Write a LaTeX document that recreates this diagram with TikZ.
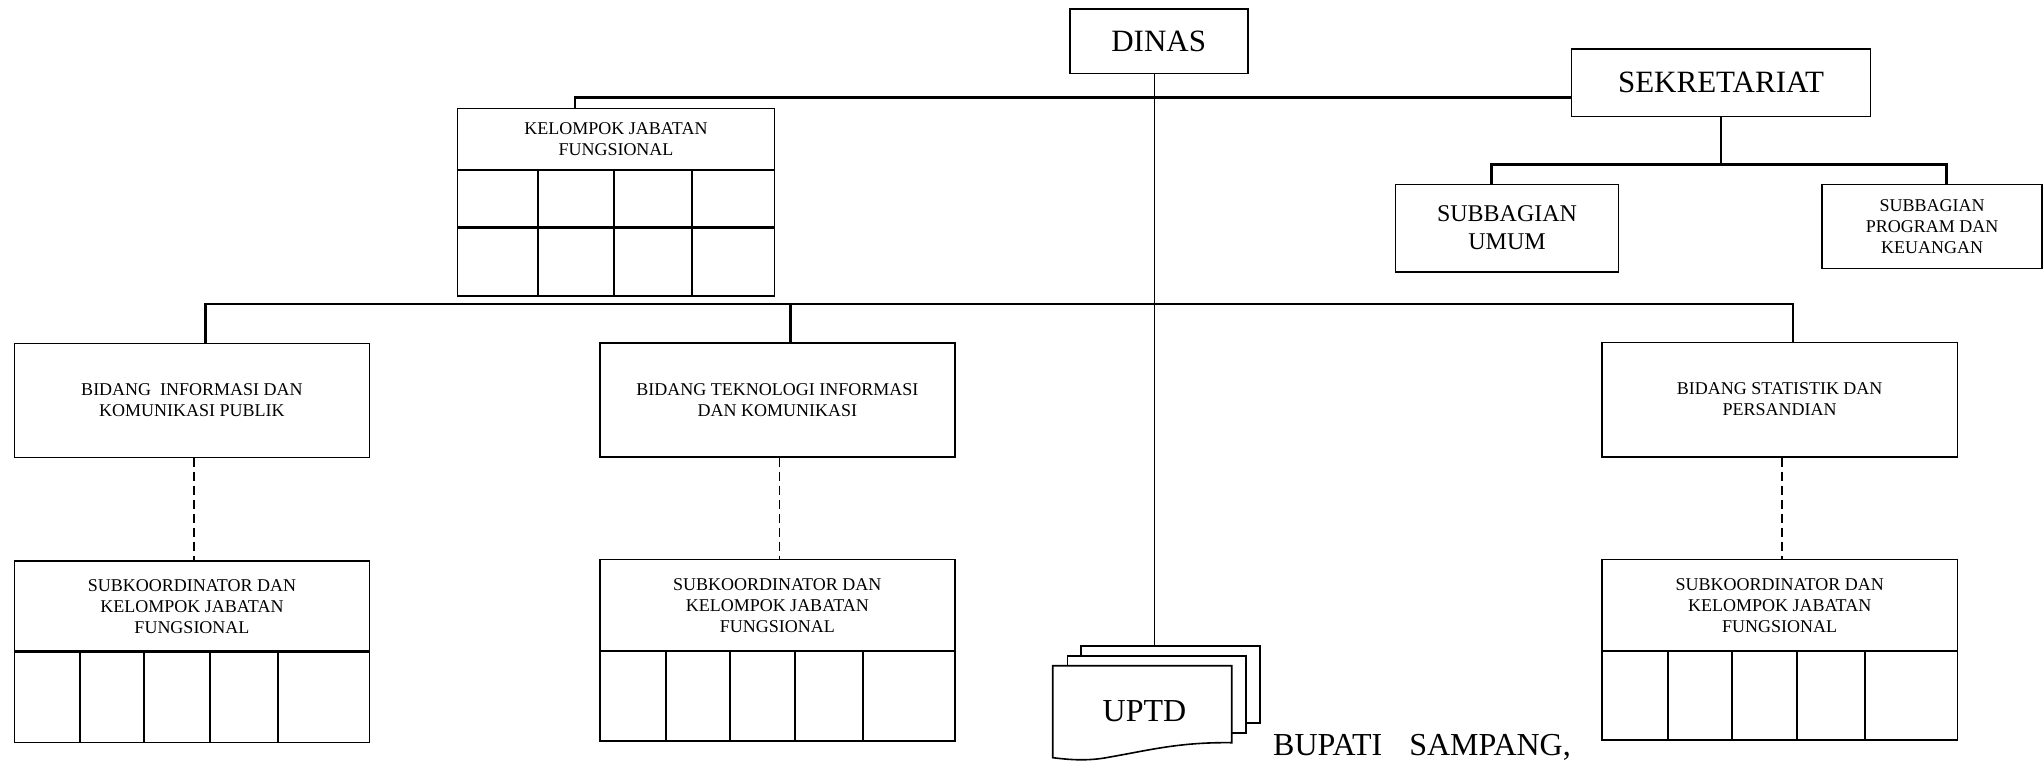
\documentclass[tikz,border=0pt]{standalone}
\usepackage{fontspec}
\setmainfont{Liberation Serif}
\begin{document}
\begin{tikzpicture}[x=1pt,y=-1pt,
  box/.style={draw, line width=1.6pt, inner sep=2pt, align=center, fill=white},
  big/.style={font=\fontsize{31}{36}\selectfont},
  mid/.style={font=\fontsize{24}{28.3}\selectfont},
  small/.style={font=\fontsize{18}{21}\selectfont},
  conn/.style={line width=2.4pt},
  thinconn/.style={line width=1.3pt},
  dashconn/.style={line width=1.6pt, dash pattern=on 9pt off 5pt},
  sep/.style={line width=2.8pt},
  col/.style={line width=2pt},
  sheet/.style={draw, line width=1.6pt, fill=white, inner sep=0pt}]
\useasboundingbox (0,0) rectangle (2044,761);

% top level
\node[box,big,minimum width=178pt,minimum height=64.5pt] (dinas) at (1158.7,41.2) {DINAS};
\node[box,big,minimum width=299pt,minimum height=67.7pt] (sek) at (1721,82.8) {SEKRETARIAT};

% kelompok jabatan fungsional (top)
\node[box,small,minimum width=316.7pt,minimum height=61.7pt] (kjf) at (616,139.2) {KELOMPOK JABATAN\\FUNGSIONAL};
\draw[line width=1.6pt] (457.6,170) rectangle (774.3,295.7);
\draw[sep] (457.6,170) -- (774.3,170);
\draw[sep] (457.6,227.7) -- (774.3,227.7);
\foreach \x in {538.4,614,691.6} \draw[col] (\x,170) -- (\x,295.7);

% subbagian
\node[box,mid,minimum width=223pt,minimum height=87.4pt] (su) at (1507,228) {SUBBAGIAN\\UMUM};
\node[box,small,minimum width=220pt,minimum height=84pt] (sp) at (1932,226.3) {SUBBAGIAN\\PROGRAM DAN\\KEUANGAN};

% bidang
\node[box,small,minimum width=355.3pt,minimum height=114pt] (b1) at (192,400.3) {BIDANG~~INFORMASI DAN\\KOMUNIKASI PUBLIK};
\node[box,small,minimum width=355.2pt,minimum height=114pt] (b2) at (777.3,399.7) {BIDANG TEKNOLOGI INFORMASI\\DAN KOMUNIKASI};
\node[box,small,minimum width=355.2pt,minimum height=114.4pt] (b3) at (1779.7,399.5) {BIDANG STATISTIK DAN\\PERSANDIAN};

% subkoordinator
\node[box,small,minimum width=355.3pt,minimum height=90.7pt] (s1) at (192,606.3) {SUBKOORDINATOR DAN\\KELOMPOK JABATAN\\FUNGSIONAL};
\node[box,small,minimum width=355.2pt,minimum height=91.7pt] (s2) at (777.3,605.2) {SUBKOORDINATOR DAN\\KELOMPOK JABATAN\\FUNGSIONAL};
\node[box,small,minimum width=355.2pt,minimum height=91.7pt] (s3) at (1779.7,605.2) {SUBKOORDINATOR DAN\\KELOMPOK JABATAN\\FUNGSIONAL};
\foreach \l/\t/\b in {14.3/651.7/742.3, 599.7/651/741, 1602.1/651/740} {
  \draw[line width=1.6pt] (\l,\t) rectangle ({\l+355.2},\b);
  \draw[sep] (\l,\t) -- ({\l+355.2},\t);
  \foreach \d in {66,130,195.3,263.3} \draw[col] ({\l+\d},\t) -- ({\l+\d},\b);
}

% UPTD stacked documents
\node[sheet,minimum width=179.3pt,minimum height=77pt] (uptdback) at (1170.35,684.2) {};
\node[sheet,minimum width=178.4pt,minimum height=77pt] (uptdmid) at (1156.5,694.2) {};
\draw[line width=1.6pt, fill=white] (1052.7,665.7) -- (1231.7,665.7) -- (1231.7,742.7)
  .. controls (1180,742) and (1150,750) .. (1110,757)
  .. controls (1085,762) and (1065,759) .. (1052.7,757.7) -- cycle;
\node[font=\fontsize{32}{36}\selectfont] (uptd) at (1144.5,711) {UPTD};

\node[anchor=base west, inner sep=0pt, font=\fontsize{32}{36}\selectfont] (bupati) at (1273,755) {BUPATI\hspace{27pt}SAMPANG,};

% connectors
\coordinate (trunk) at (1154.4,0);
\draw[thinconn] (dinas.south -| trunk) -- (uptdback.north -| trunk);

\coordinate (h1) at (575,97.3);
\draw[conn] (h1 |- kjf.north) -- (h1) -- (h1 -| sek.west);

\coordinate (sa) at (1491.3,164.3);
\coordinate (sb) at (1946.3,164.3);
\draw[thinconn] (sek.south) -- (sek.south |- sa);
\draw[conn] (sa |- su.north) -- (sa) -- (sb) -- (sb |- sp.north);

\coordinate (c1) at (205.3,304);
\coordinate (c2) at (790.6,304);
\coordinate (c3) at (1793,304);
\draw[conn] (c1 |- b1.north) -- (c1) -- (c3) -- (c3 |- b3.north);
\draw[conn] (c2) -- (c2 |- b2.north);

\draw[dashconn] ([xshift=2pt]b1.south) -- ([xshift=2pt]s1.north);
\draw[dashconn] ([xshift=2pt]b2.south) -- ([xshift=2pt]s2.north);
\draw[dashconn] ([xshift=2pt]b3.south) -- ([xshift=2pt]s3.north);
\end{tikzpicture}
\end{document}
